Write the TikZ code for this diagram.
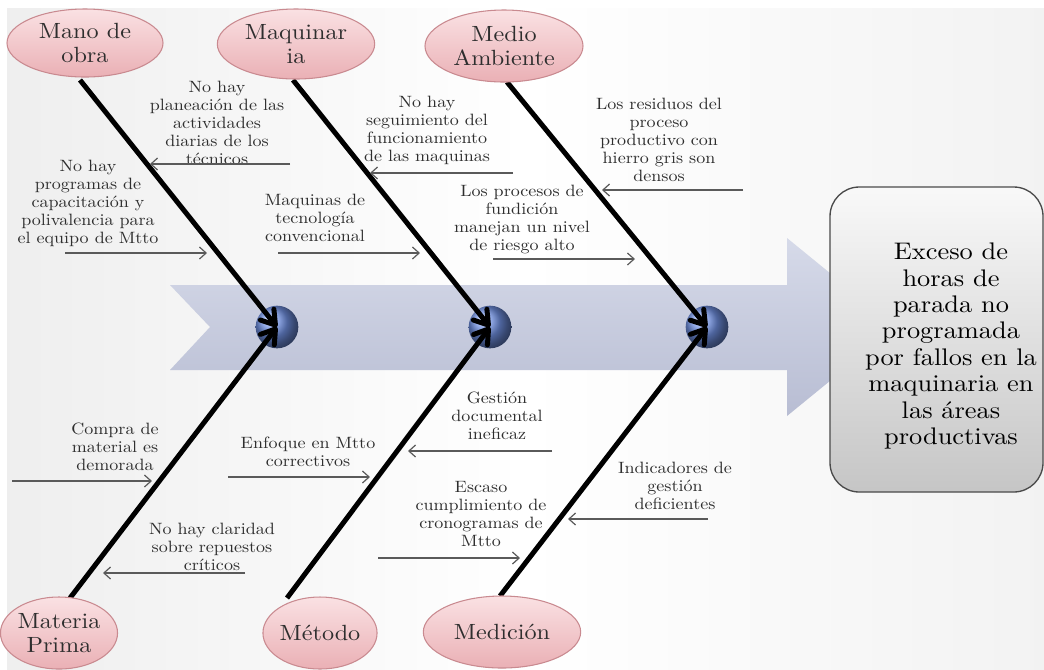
\documentclass[tikz,border=0pt]{standalone}
\usepackage{fontspec}
\setmainfont{lmroman10-regular.otf}[FakeStretch=1.1]
\usetikzlibrary{arrows.meta,shapes.geometric}
\definecolor{pinkT}{HTML}{FAE1E3}
\definecolor{pinkB}{HTML}{EAB0B5}
\definecolor{pinkE}{HTML}{C98A90}
\definecolor{bandT}{HTML}{D6DAE9}
\definecolor{bandB}{HTML}{B8BDD3}
\definecolor{ballC}{HTML}{6F8FE0}
\definecolor{txt}{HTML}{2E2E2E}
\definecolor{arr}{HTML}{5A5A5A}
\definecolor{boxE}{HTML}{4A4A4A}
\begin{document}
\begin{tikzpicture}[x=0.75pt,y=-0.75pt,
 cat/.style={ellipse,inner sep=0pt,top color=pinkT,bottom color=pinkB,draw=pinkE,line width=0.8pt,text=txt,align=center,font=\fontsize{16.5}{17.5}\selectfont},
 cause/.style={align=center,text=txt,font=\fontsize{12.3}{13.5}\selectfont,inner sep=0pt},
 bone/.style={line width=3.75pt,-{Straight Barb[length=10pt,width=13pt,round]}},
 twig/.style={draw=arr,line width=0.9pt,-{Straight Barb[length=5pt,width=9pt]}},
 hub/.style={circle,minimum size=32pt,inner sep=0pt,shading=ball,ball color=ballC}
]
\useasboundingbox (0,0) rectangle (1044,669);
\fill[white] (0,0) rectangle (1044,669);
\shade[left color=gray!13,right color=gray!10,middle color=white] (7,8) rectangle (1044,669);

% spine arrow
\shade[top color=bandT,bottom color=bandB]
  (170,285) -- (787,285) -- (787,238) -- (896,327) -- (787,416) -- (787,370) -- (170,370) -- (210,327) -- cycle;

% effect box
\node (box) [draw=boxE, line width=1pt, rounded corners=22pt, top color=gray!5, bottom color=gray!45,
  minimum width=159.75pt, minimum height=228.75pt] at (936.5,339.5) {};
\node (eff) [font=\fontsize{18}{19.8}\selectfont, align=center, text=black] at (951,346)
  {Exceso de\\horas de\\parada no\\programada\\por fallos en la\\maquinaria en\\las áreas\\productivas};

% hubs
\node[hub] (h1) at (277,327) {};
\node[hub] (h2) at (490,327) {};
\node[hub] (h3) at (707,327) {};

% bone start points
\coordinate (s1) at (80,80);
\coordinate (s2) at (293,80);
\coordinate (s3) at (507,82);
\coordinate (s4) at (70,598);
\coordinate (s5) at (287,598);
\coordinate (s6) at (500,596);
\draw[bone] (s1) -- (h1.center);
\draw[bone] (s2) -- (h2.center);
\draw[bone] (s3) -- (h3.center);
\draw[bone] (s4) -- (h1.center);
\draw[bone] (s5) -- (h2.center);
\draw[bone] (s6) -- (h3.center);

% causes, top
\node[cause] (c1) at (217,123) {No hay\\planeación de las\\actividades\\diarias de los\\técnicos};
\coordinate (c1a) at (290,164); \coordinate (c1b) at (150,164);
\draw[twig] (c1a) -- (c1b);
\node[cause] (c2) at (88,203) {No hay\\programas de\\capacitación y\\polivalencia para\\el equipo de Mtto};
\coordinate (c2a) at (65,253); \coordinate (c2b) at (207,253);
\draw[twig] (c2a) -- (c2b);
\node[cause] (c3) at (315,218) {Maquinas de\\tecnología\\convencional};
\coordinate (c3a) at (278,253); \coordinate (c3b) at (420,253);
\draw[twig] (c3a) -- (c3b);
\node[cause] (c4) at (427,130) {No hay\\seguimiento del\\funcionamiento\\de las maquinas};
\coordinate (c4a) at (513,173); \coordinate (c4b) at (370,173);
\draw[twig] (c4a) -- (c4b);
\node[cause] (c5) at (522,219) {Los procesos de\\fundición\\manejan un nivel\\de riesgo alto};
\coordinate (c5a) at (493,259); \coordinate (c5b) at (635,259);
\draw[twig] (c5a) -- (c5b);
\node[cause] (c6) at (659,140) {Los residuos del\\proceso\\productivo con\\hierro gris son\\densos};
\coordinate (c6a) at (743,190); \coordinate (c6b) at (602,190);
\draw[twig] (c6a) -- (c6b);

% causes, bottom
\node[cause] (c7) at (115,447) {Compra de\\material es\\demorada};
\coordinate (c7a) at (12,481); \coordinate (c7b) at (152,481);
\draw[twig] (c7a) -- (c7b);
\node[cause] (c8) at (308,452) {Enfoque en Mtto\\correctivos};
\coordinate (c8a) at (228,477); \coordinate (c8b) at (370,477);
\draw[twig] (c8a) -- (c8b);
\node[cause] (c9) at (212,547) {No hay claridad\\sobre repuestos\\críticos};
\coordinate (c9a) at (245,573); \coordinate (c9b) at (103,573);
\draw[twig] (c9a) -- (c9b);
\node[cause] (c10) at (497,416) {Gestión\\documental\\ineficaz};
\coordinate (c10a) at (552,451); \coordinate (c10b) at (408,451);
\draw[twig] (c10a) -- (c10b);
\node[cause] (c11) at (481,514) {Escaso\\cumplimiento de\\cronogramas de\\Mtto};
\coordinate (c11a) at (378,558); \coordinate (c11b) at (520,558);
\draw[twig] (c11a) -- (c11b);
\node[cause] (c12) at (675,486) {Indicadores de\\gestión\\deficientes};
\coordinate (c12a) at (708,519); \coordinate (c12b) at (568,519);
\draw[twig] (c12a) -- (c12b);

% category ellipses
\node[cat,minimum width=117pt,minimum height=51pt] (e1) at (85,43) {Mano de\\obra};
\node[cat,minimum width=118pt,minimum height=52.5pt] (e2) at (296,44) {Maquinar\\ia};
\node[cat,minimum width=118.5pt,minimum height=54pt] (e3) at (504,46) {Medio\\Ambiente};
\node[cat,minimum width=81pt,minimum height=54pt] (e4) at (59,633) {Materia\\Prima};
\node[cat,minimum width=78pt,minimum height=54pt] (e5) at (320,633) {Método};
\node[cat,minimum width=118pt,minimum height=54pt] (e6) at (502,632) {Medición};
\end{tikzpicture}
\end{document}
